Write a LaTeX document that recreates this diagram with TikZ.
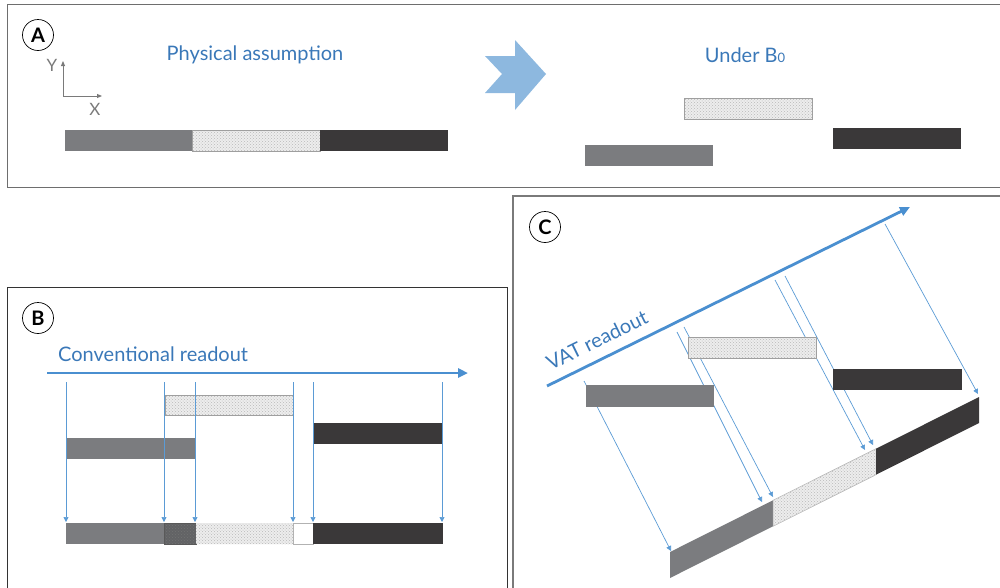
\documentclass[tikz,border=0pt]{standalone}
\usepackage{fontspec}
\setmainfont{Lato}
\usetikzlibrary{patterns,arrows.meta}

\definecolor{txtblue}{HTML}{3A78B8}
\definecolor{lineblue}{HTML}{4A8FD0}
\definecolor{thinblue}{HTML}{5B9BD5}
\definecolor{bigblue}{HTML}{8DB8DF}
\definecolor{barGray}{HTML}{7B7C7F}
\definecolor{barDark}{HTML}{3A3839}
\definecolor{frameGray}{HTML}{6E6E6E}
\definecolor{axisGray}{HTML}{7A7A7A}

\tikzset{
  panel/.style={draw=frameGray, line width=1pt},
  tag/.style={circle, draw=black, line width=0.7pt, minimum size=31pt, inner sep=0pt,
    font=\fontsize{20}{20}\selectfont\bfseries},
  title/.style={text=txtblue, font=\fontsize{20}{20}\selectfont, inner sep=0pt},
  bar/.style={rectangle, anchor=north west, inner sep=0pt, outer sep=0pt,
    minimum height=21pt},
  graybar/.style={bar, fill=barGray},
  darkbar/.style={bar, fill=barDark},
  dotbar/.style={bar, draw=gray!75, line width=0.6pt, preaction={fill=gray!14},
    pattern=crosshatch dots, pattern color=gray!55},
  dotfill/.style={preaction={fill=gray!14}, pattern=crosshatch dots, pattern color=gray!55},
  readout/.style={draw=lineblue, line width=2.8pt, -{Triangle[width=9pt,length=10pt]}},
  probe/.style={draw=thinblue, line width=0.7pt, -{Triangle[width=5pt,length=5pt]}},
  axis/.style={draw=axisGray, line width=0.9pt, -{Triangle[width=4pt,length=5pt]}},
  axlabel/.style={text=axisGray, font=\fontsize{17}{17}\selectfont, inner sep=0pt},
}

\begin{document}
\begin{tikzpicture}[x=1pt,y=-1pt]
\useasboundingbox (0,0) rectangle (1000,587);

% ---------- panel A ----------
\draw[panel] (7,4) rectangle (1006,187);
\node[tag] (tagA) at (38,35) {A};
\node[title] (physA) at (255,55) {Physical assumption};

\coordinate (ax0) at (63,96);
\coordinate (axY) at (63,61);
\coordinate (axX) at (102,96);
\draw[axis] (ax0) -- (axY);
\draw[axis] (ax0) -- (axX);
\node[axlabel] (labY) at (52,65) {Y};
\node[axlabel] (labX) at (95,109) {X};

\node[graybar, minimum width=127pt] (a1) at (65,130) {};
\node[dotbar, minimum width=128pt] (a2) at (192,130) {};
\node[darkbar, minimum width=128pt] (a3) at (320,130) {};

% transition arrow
\fill[bigblue] (485,56) -- (515,56) -- (515,40) -- (546,74) -- (515,110)
  -- (515,93) -- (485,93) -- (502,74) -- cycle;

\node[title] (underB) at (745,55) {Under B{\fontsize{13}{13}\selectfont 0}};
\node[dotbar, minimum width=128pt] (u2) at (684,98) {};
\node[graybar, minimum width=128pt] (u1) at (585,145) {};
\node[darkbar, minimum width=128pt] (u3) at (833,128) {};

% ---------- panel B ----------
\draw[panel, draw=black!80] (7,287) rectangle (507,600);
\node[tag] (tagB) at (38,318) {B};
\node[title, anchor=west] (convB) at (58,354) {Conventional readout};
\coordinate (rdB0) at (47,373);
\coordinate (rdB1) at (468,373);
\draw[readout] (rdB0) -- (rdB1);

\node[dotbar, minimum width=128pt, minimum height=20pt] (b2) at (165,395) {};
\node[darkbar, minimum width=128pt] (b3) at (314,423) {};
\node[graybar, minimum width=129pt] (b1) at (66,438) {};

% readout result
\node[graybar, minimum width=98pt] (r1) at (66,523) {};
\fill[barGray!80!black] (164,523) rectangle (196,544);
\path[pattern=crosshatch dots, pattern color=black!55] (164,523) rectangle (196,544);
\draw[gray!70!black, line width=0.6pt] (164,523) rectangle (196,544);
\node[dotbar, draw=none, minimum width=97pt] (r2) at (196,523) {};
\node[bar, draw=gray!60, line width=0.6pt, fill=white, minimum width=20pt] (r3) at (293,523) {};
\node[darkbar, minimum width=130pt] (r4) at (313,523) {};

\foreach \x [count=\i] in {66,164,195,293,313,442} {
  \coordinate (pt\i) at (\x,382);
  \coordinate (pb\i) at (\x,522);
  \draw[probe] (pt\i) -- (pb\i);
}

% ---------- panel C ----------
\draw[panel, draw=axisGray, line width=1.2pt] (513,196) rectangle (1006,600);
\node[tag] (tagC) at (545,227) {C};
\coordinate (rdC0) at (547,386);
\coordinate (rdC1) at (910,207);
\draw[readout] (rdC0) -- (rdC1);
\node[title, rotate=26.2] (vatC) at (597,340) {VAT readout};

% tilted result strip
\fill[barGray] (670,552) -- (773,500.3) -- (773,526.3) -- (670,578) -- cycle;
\path[dotfill, draw=gray!60, line width=0.5pt] (773,500.3) -- (876,448.7) -- (876,474.7) -- (773,526.3) -- cycle;
\fill[barDark] (876,448.7) -- (979,397) -- (979,423) -- (876,474.7) -- cycle;

\foreach \sx/\sy/\ex/\ey [count=\i] in {584/381/671/551, 677/332/762/502, 684/327/773/497,
    775/280/865/450, 785/276/873/445, 885/224/978/394} {
  \coordinate (cs\i) at (\sx,\sy);
  \coordinate (ce\i) at (\ex,\ey);
  \draw[probe] (cs\i) -- (ce\i);
}

\node[dotbar, minimum width=128pt] (c2) at (688,337) {};
\node[graybar, minimum width=128pt, minimum height=22pt] (c1) at (586,385) {};
\node[darkbar, minimum width=129pt] (c3) at (833,369) {};
\end{tikzpicture}
\end{document}
